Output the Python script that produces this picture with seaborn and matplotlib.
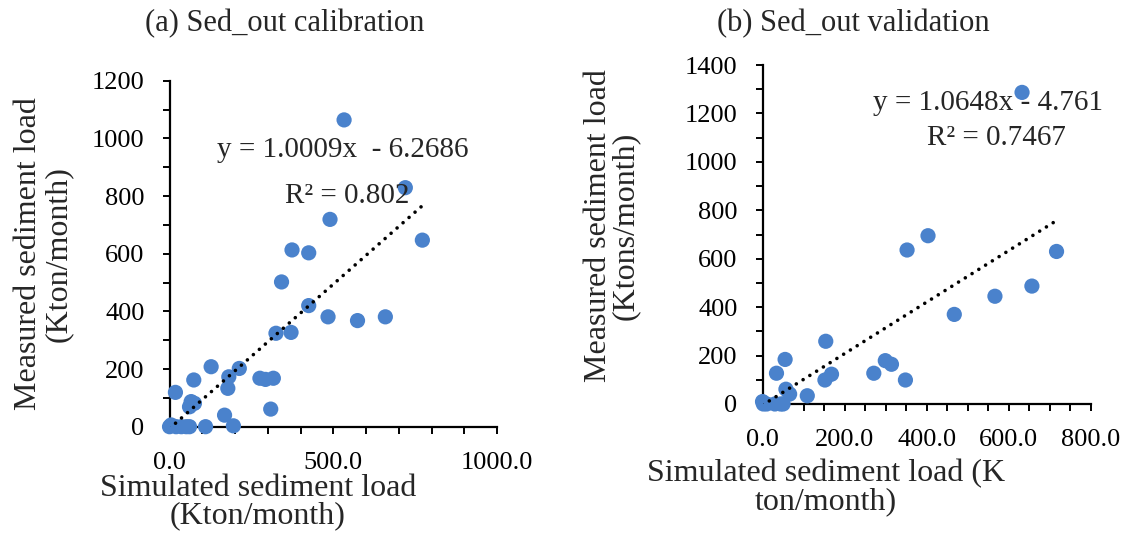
import matplotlib
matplotlib.use("Agg")
import matplotlib.pyplot as plt
from matplotlib.ticker import MultipleLocator, FormatStrFormatter
import numpy as np
import pandas as pd
import seaborn as sns

# (a) calibration: simulated vs measured (Kton/month)
cal_sim = [533, 720, 490, 772, 374, 425, 342, 425, 484, 574, 659, 325, 371,
           213, 127, 181, 178, 276, 293, 317, 74, 18, 66, 76, 61, 309, 168,
           195, 110, 0, 20, 51, 61, 36, 5]
cal_obs = [1064, 829, 719, 647, 613, 603, 502, 420, 381, 368, 381, 324, 327,
           202, 208, 173, 133, 168, 164, 168, 162, 119, 87, 81, 69, 61, 40,
           3, 0, 0, 0, 0, 0, 0, 6]
cal_fit = (1.0009, -6.2686)

# (b) validation
val_sim = [632, 403, 352, 716, 656, 566, 467, 154, 55, 299, 314, 271, 168,
           152, 348, 34, 57, 66, 109, 0, 10, 30, 50, 2, 44]
val_obs = [1287, 695, 636, 630, 487, 445, 370, 259, 184, 179, 164, 127, 123,
           99, 99, 127, 61, 41, 34, 10, 0, 0, 0, 0, 0]
val_fit = (1.0648, -4.761)

sns.set_theme(style="white")
plt.rcParams['font.family'] = ['Liberation Serif', 'DejaVu Serif']

blue = '#4a82cc'
fig = plt.figure(figsize=(11.25, 5.38), dpi=100)
ax1 = fig.add_axes([0.1507, 0.2069, 0.2911, 0.6431])
ax2 = fig.add_axes([0.6778, 0.2491, 0.2920, 0.6300])


def panel(ax, sim, obs, fit, xmax, ymax, xmaj, xmin):
    df = pd.DataFrame({'sim': sim, 'obs': obs})
    sns.scatterplot(data=df, x='sim', y='obs', ax=ax, color=blue, s=120,
                    edgecolor='none', clip_on=False, zorder=3)
    xs = np.array([min(sim), max(sim)])
    ax.plot(xs, fit[0] * xs + fit[1], color='black', lw=2.6,
            linestyle=(0, (0.01, 2.2)), dash_capstyle='round', zorder=4)
    ax.set_xlim(0, xmax)
    ax.set_ylim(0, ymax)
    ax.xaxis.set_major_locator(MultipleLocator(xmaj))
    ax.xaxis.set_minor_locator(MultipleLocator(xmin))
    ax.xaxis.set_major_formatter(FormatStrFormatter('%.1f'))
    ax.yaxis.set_major_locator(MultipleLocator(200))
    ax.yaxis.set_minor_locator(MultipleLocator(100))
    for s in ['top', 'right']:
        ax.spines[s].set_visible(False)
    for s in ['left', 'bottom']:
        ax.spines[s].set_color('black')
        ax.spines[s].set_linewidth(1.6)
    ax.tick_params(which='both', direction='out', length=5, width=1.4,
                   color='black', labelsize=19, labelcolor='black',
                   bottom=True, left=True)
    ax.tick_params(axis='x', which='both', pad=13)
    ax.tick_params(axis='y', which='both', pad=13)
    ax.set_xlabel('')
    ax.set_ylabel('')


panel(ax1, cal_sim, cal_obs, cal_fit, 1000, 1200, 500, 100)
panel(ax2, val_sim, val_obs, val_fit, 800, 1400, 200, 50)

# equation labels
ax1.text(530, 960, 'y = 1.0009x  - 6.2686', ha='center', va='center', fontsize=21)
ax1.text(541, 800, 'R² = 0.802', ha='center', va='center', fontsize=21)
ax2.text(549, 1242, 'y = 1.0648x - 4.761', ha='center', va='center', fontsize=21)
ax2.text(569, 1097, 'R² = 0.7467', ha='center', va='center', fontsize=21)

# axis titles
ax1.set_ylabel('Measured sediment load\n(Kton/month)', fontsize=23, linespacing=1.07)
ax1.yaxis.set_label_coords(-0.385, 0.5)
ax1.yaxis.label.set_va('center')
ax1.set_xlabel('Simulated sediment load\n(Kton/month)', fontsize=23, linespacing=0.94)
ax1.xaxis.set_label_coords(0.27, -0.2176)
ax1.xaxis.label.set_va('center')

ax2.set_ylabel('Measured sediment load\n(Ktons/month)', fontsize=23, linespacing=0.91)
ax2.yaxis.set_label_coords(-0.458, 0.525)
ax2.yaxis.label.set_va('center')
ax2.set_xlabel('Simulated sediment load (K\nton/month)', fontsize=23, linespacing=0.94)
ax2.xaxis.set_label_coords(0.193, -0.246)
ax2.xaxis.label.set_va('center')

fig.text(285 / 1125, 1 - 24 / 538, '(a) Sed_out calibration', ha='center', va='center', fontsize=22)
fig.text(853 / 1125, 1 - 24 / 538, '(b) Sed_out validation', ha='center', va='center', fontsize=22)

fig.savefig('out.png', dpi=100)
